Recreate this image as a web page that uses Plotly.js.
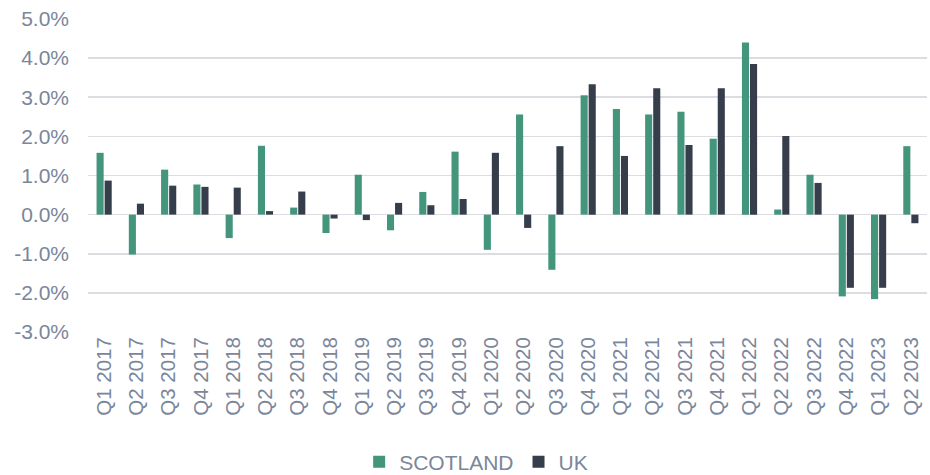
<!DOCTYPE html>
<html>
<head>
<meta charset="utf-8">
<script src="https://cdn.plot.ly/plotly-3.0.1.min.js"></script>
<style>html,body{margin:0;padding:0;background:#fff;}#chart{width:930px;height:475px;}</style>
</head>
<body>
<div id="chart"></div>
<script>
const quarters = ["Q1 2017","Q2 2017","Q3 2017","Q4 2017","Q1 2018","Q2 2018","Q3 2018","Q4 2018",
  "Q1 2019","Q2 2019","Q3 2019","Q4 2019","Q1 2020","Q2 2020","Q3 2020","Q4 2020",
  "Q1 2021","Q2 2021","Q3 2021","Q4 2021","Q1 2022","Q2 2022","Q3 2022","Q4 2022",
  "Q1 2023","Q2 2023"];
const scotland = [1.58,-1.02,1.15,0.77,-0.60,1.76,0.18,-0.47,
  1.02,-0.40,0.58,1.61,-0.90,2.56,-1.41,3.05,
  2.70,2.56,2.63,1.94,4.40,0.13,1.02,-2.09,
  -2.16,1.75];
const uk = [0.87,0.28,0.74,0.71,0.69,0.09,0.59,-0.10,
  -0.14,0.30,0.24,0.40,1.58,-0.34,1.75,3.33,
  1.50,3.23,1.78,3.23,3.85,2.01,0.81,-1.87,
  -1.87,-0.22];
const yTicks = [-3,-2,-1,0,1,2,3,4,5];

const font = "Liberation Sans, Arial, sans-serif";
const grey = "#7a869a";

const data = [
  {type:"bar", name:"SCOTLAND", x:quarters, y:scotland, marker:{color:"#43957b"}},
  {type:"bar", name:"UK", x:quarters, y:uk, marker:{color:"#363e4b"}}
];
const layout = {
  width:930, height:475,
  margin:{l:88, r:3, t:19, b:143},
  paper_bgcolor:"#fff", plot_bgcolor:"#fff",
  barmode:"group", bargap:0.5, bargroupgap:0.12,
  font:{family:font, size:20, color:grey},
  showlegend:true,
  legend:{orientation:"h", x:0.512, xanchor:"center", xref:"container", y:0.027, yanchor:"middle", yref:"container",
    font:{family:font, size:21, color:grey}, itemwidth:30, tracegroupgap:0},
  xaxis:{type:"category", tickangle:-90, showgrid:false, ticks:"", showline:false, zeroline:false,
    tickfont:{family:font, size:20.5, color:grey}, automargin:false},
  yaxis:{range:[-3,5], tickvals:yTicks, ticktext:yTicks.map(v=>v.toFixed(1)+"%"),
    showgrid:true, gridcolor:"#dcdde3", gridwidth:1.6, zeroline:true, zerolinecolor:"#dcdde3", zerolinewidth:1.6,
    ticks:"", showline:false, tickfont:{family:font, size:21, color:grey}, automargin:false, ticklabelstandoff:18}
};
Plotly.newPlot("chart", data, layout, {displayModeBar:false, staticPlot:true});
</script>
</body>
</html>
